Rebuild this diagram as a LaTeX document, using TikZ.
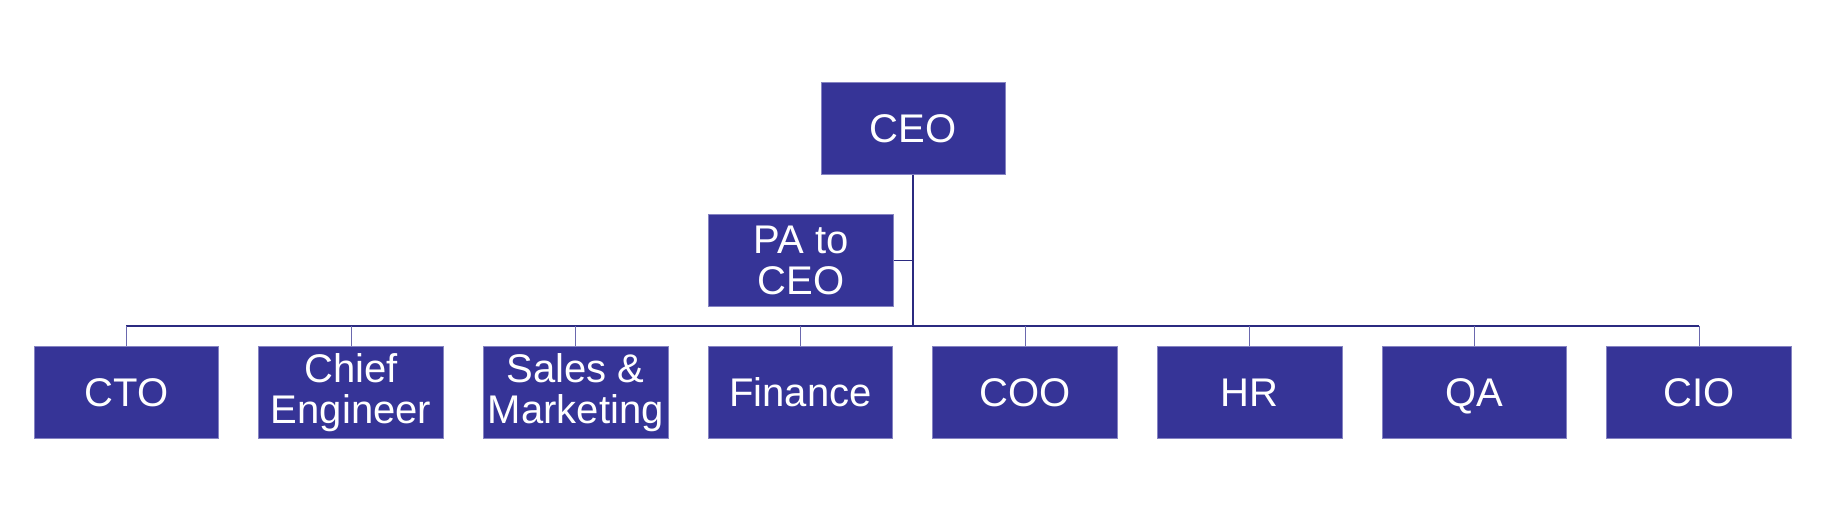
\documentclass[tikz,border=0pt]{standalone}
\usepackage{fontspec}
\setmainfont{Liberation Sans}
\definecolor{boxfill}{HTML}{363497}
\definecolor{boxedge}{HTML}{8583C2}
\definecolor{linemain}{HTML}{2B2A80}
\definecolor{linedrop}{HTML}{6A68AE}
\begin{document}
\begin{tikzpicture}[x=1pt,y=-1pt,
  orgbox/.style={rectangle, fill=boxfill, draw=boxedge, line width=0.9pt,
    minimum width=184.7pt, minimum height=91.5pt, inner sep=0pt,
    text=white, align=center, font=\fontsize{40}{41}\selectfont},
  nodepth/.style={text depth=0pt},
  mainline/.style={draw=linemain, line width=2pt},
  busline/.style={draw=linemain, line width=1.4pt},
  dropline/.style={draw=linedrop, line width=1pt}]
\useasboundingbox (0,0) rectangle (1831,531);
\node[orgbox] (ceo) at (913.3,128.5) {CEO};
\node[orgbox] (pa) at (801,260.3) {PA to\\CEO};
\node[orgbox] (cto) at (126.35,392.3) {CTO};
\node[orgbox] (chief) at (351.05,392.3) {Chief\\Engineer};
\node[orgbox] (sales) at (575.75,392.3) {Sales \&\\Marketing};
\node[orgbox] (fin) at (800.45,392.3) {Finance};
\node[orgbox] (coo) at (1025.15,392.3) {COO};
\node[orgbox] (hr) at (1249.85,392.3) {HR};
\node[orgbox,nodepth] (qa) at (1474.55,392.3) {QA};
\node[orgbox] (cio) at (1699.25,392.3) {CIO};
\coordinate (busc) at (913.3,326);
\draw[busline] (cto.north |- busc) -- (cio.north |- busc);
\foreach \n in {cto,chief,sales,fin,coo,hr,qa,cio}{
  \draw[dropline] (\n.north) -- (\n.north |- busc);
}
\draw[mainline] (ceo.south) -- (busc);
\draw[busline] (pa.east) -- (pa.east -| busc);
\end{tikzpicture}
\end{document}
